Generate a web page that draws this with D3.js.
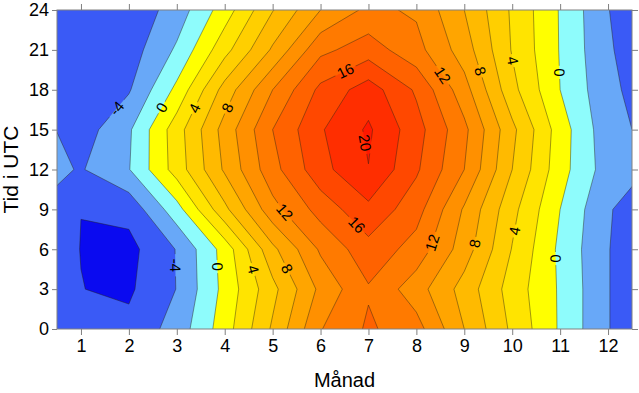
<!DOCTYPE html>
<html>
<head>
<meta charset="utf-8">
<script src="https://cdn.jsdelivr.net/npm/d3@7"></script>
<style>
  body { margin: 0; background: #fff; }
  text { font-family: "Liberation Sans", Arial, sans-serif; }
</style>
</head>
<body>
<svg id="chart" width="639" height="393"></svg>
<script>
// grid columns (month positions, edges included) and rows (hour UTC)
const monthPos = [0.5, 1, 2, 3, 4, 5, 6, 7, 8, 9, 10, 11, 12, 12.5];
const hourPos = [0, 3, 6, 9, 12, 15, 18, 21, 24];

// temperature, one array per hour
const utc00 = [-5.2, -5.3, -5.5, -3.17, 1.05, 6.3, 11.9, 14.3, 12.8, 8.0, 3.6, -0.25, -3.95, -4.6];
const utc03 = [-5.5, -5.97, -6.3, -3.95, 0.6, 5.4, 10.5, 13.8, 10.9, 7.2, 3.1, -0.25, -3.95, -4.6];
const utc06 = [-5.5, -6.03, -6.6, -3.9, 0.8, 7.5, 12.3, 15.3, 13.2, 9.0, 3.9, -0.43, -3.95, -4.6];
const utc09 = [-4.6, -5.99, -5.4, -0.8, 5.5, 11.3, 14.8, 17.5, 14.8, 9.75, 4.6, 0.0, -3.9, -4.4];
const utc12 = [-3.6, -4.17, -2.1, 2.9, 8.3, 13.3, 17.3, 19.95, 16.3, 12.0, 6.0, 0.8, -3.0, -3.7];
const utc15 = [-4.03, -5.0, -2.3, 3.1, 8.8, 14.0, 17.8, 20.3, 16.8, 12.5, 6.5, 1.0, -3.3, -4.0];
const utc18 = [-5.0, -5.3, -4.2, 0.5, 6.8, 12.0, 16.5, 19.0, 15.7, 10.8, 4.6, 0.0, -3.5, -4.4];
const utc21 = [-5.3, -5.5, -5.0, -1.7, 3.3, 8.3, 13.5, 15.0, 12.7, 9.0, 3.85, -0.12, -3.8, -4.6];
const utc24 = [-5.5, -5.5, -5.47, -3.1, 1.0, 5.9, 10.0, 12.5, 11.7, 8.0, 3.7, -0.15, -3.95, -4.8];

const levels = [-6, -4, -2, 0, 2, 4, 6, 8, 10, 12, 14, 16, 18, 20];
// first colour is below the lowest level
const bandColors = ['#0a0af0', '#3a5af6', '#68a8f8', '#8efcfc', '#ffff00', '#ffe400', '#ffcf00',
  '#ffba00', '#ffa500', '#ff9000', '#ff7a00', '#ff6200', '#ff4800', '#ff2e00', '#ff1800'];

// contour labels: level and rough place on the picture (month, hour)
const labelLevel = [-4, 0, 4, 8, 16, 20, 12, 8, 4, 0, -4, 0, 4, 8, 12, 16, 12, 8, 4, 0];
const labelMonth = [1.75, 2.67, 3.38, 4.03, 6.51, 6.93, 8.55, 9.33, 10.02, 10.98,
  3.03, 3.88, 4.61, 5.34, 5.22, 6.66, 8.33, 9.12, 10.0, 10.89];
const labelHour = [16.6, 16.7, 16.6, 16.7, 19.5, 14.0, 19.1, 19.4, 20.2, 19.3,
  4.8, 4.7, 4.5, 4.6, 8.7, 7.5, 6.5, 6.5, 7.4, 5.3];

const monthTicks = [1, 2, 3, 4, 5, 6, 7, 8, 9, 10, 11, 12];
const hourTicks = [0, 3, 6, 9, 12, 15, 18, 21, 24];

const width = 639, height = 393;
const margin = { top: 10, right: 7, bottom: 64, left: 57 };
const innerWidth = width - margin.left - margin.right;
const innerHeight = height - margin.top - margin.bottom;

const svg = d3.select('#chart');
const defs = svg.append('defs');
const g = svg.append('g').attr('transform', `translate(${margin.left},${margin.top})`);

const x = d3.scaleLinear().domain([0.5, 12.5]).range([0, innerWidth]);
const y = d3.scaleLinear().domain([0, 24]).range([innerHeight, 0]);

// d3.contours puts value i at i + 0.5, map that back to months / hours
const colToMonth = d3.scaleLinear().domain(monthPos.map((d, i) => i + 0.5)).range(monthPos);
const rowToHour = d3.scaleLinear().domain(hourPos.map((d, i) => i + 0.5)).range(hourPos);

const grid = [utc00, utc03, utc06, utc09, utc12, utc15, utc18, utc21, utc24];
const contours = d3.contours()
  .size([monthPos.length, hourPos.length])
  .thresholds(levels)(grid.flat());

const toPx = (cx, cy) => [x(colToMonth(cx)), y(rowToHour(cy))];
const path = d3.geoPath(d3.geoTransform({
  point(px, py) { const p = toPx(px, py); this.stream.point(p[0], p[1]); }
}));

defs.append('clipPath').attr('id', 'plotClip')
  .append('rect').attr('width', innerWidth).attr('height', innerHeight);

const plot = g.append('g').attr('clip-path', 'url(#plotClip)');
plot.append('rect').attr('width', innerWidth).attr('height', innerHeight).attr('fill', bandColors[0]);

plot.append('g')
  .selectAll('path')
  .data(contours)
  .join('path')
  .attr('d', path)
  .attr('fill', (d, i) => bandColors[i + 1]);

// labels: snap to the nearest point of the contour line
const nCols = monthPos.length, nRows = hourPos.length;
function nearestOnLevel(level, px, py) {
  const c = contours.find(d => d.value === level);
  let best = null;
  c.coordinates.forEach(poly => poly.forEach(ring => {
    for (let k = 1; k < ring.length; k++) {
      const a = ring[k - 1], b = ring[k];
      if ((a[0] === 0 && b[0] === 0) || (a[0] === nCols && b[0] === nCols) ||
          (a[1] === 0 && b[1] === 0) || (a[1] === nRows && b[1] === nRows)) continue;
      const [ax, ay] = toPx(a[0], a[1]);
      const [bx, by] = toPx(b[0], b[1]);
      const dx = bx - ax, dy = by - ay, l2 = dx * dx + dy * dy;
      if (!l2) continue;
      const t = Math.max(0, Math.min(1, ((px - ax) * dx + (py - ay) * dy) / l2));
      const qx = ax + t * dx, qy = ay + t * dy;
      const d2 = (qx - px) ** 2 + (qy - py) ** 2;
      if (!best || d2 < best.d2) best = { d2, qx, qy, ang: Math.atan2(dy, dx) * 180 / Math.PI };
    }
  }));
  let ang = best.ang;
  while (ang > 90) ang -= 180;
  while (ang <= -90) ang += 180;
  return { x: best.qx, y: best.qy, ang };
}

const labels = labelLevel.map((lv, i) => {
  const p = nearestOnLevel(lv, x(labelMonth[i]), y(labelHour[i]));
  return { text: String(lv), ...p };
});

const mask = defs.append('mask').attr('id', 'labelGap')
  .attr('maskUnits', 'userSpaceOnUse')
  .attr('x', 0).attr('y', 0).attr('width', innerWidth).attr('height', innerHeight);
mask.append('rect').attr('width', innerWidth).attr('height', innerHeight).attr('fill', '#fff');
mask.selectAll('rect.gap')
  .data(labels)
  .join('rect')
  .attr('class', 'gap')
  .attr('x', d => -d.text.length * 4.6 - 2)
  .attr('y', -7)
  .attr('width', d => d.text.length * 9.2 + 4)
  .attr('height', 14)
  .attr('transform', d => `translate(${d.x},${d.y}) rotate(${d.ang})`)
  .attr('fill', '#000');

plot.append('g')
  .attr('mask', 'url(#labelGap)')
  .selectAll('path')
  .data(contours)
  .join('path')
  .attr('d', path)
  .attr('fill', 'none')
  .attr('stroke', 'rgba(40,35,20,0.55)')
  .attr('stroke-width', 0.8);

g.append('g')
  .selectAll('text')
  .data(labels)
  .join('text')
  .attr('transform', d => `translate(${d.x},${d.y}) rotate(${d.ang})`)
  .attr('text-anchor', 'middle')
  .attr('dy', '0.35em')
  .attr('font-size', 15)
  .attr('fill', '#000')
  .text(d => d.text);

// axes
const styleAxis = sel => {
  sel.select('.domain').remove();
  sel.selectAll('.tick line').attr('stroke', '#808080');
  sel.selectAll('.tick text').attr('fill', '#000').attr('font-size', 18)
    .attr('font-family', '"Liberation Sans", Arial, sans-serif');
};

g.append('g')
  .attr('transform', `translate(0,${innerHeight})`)
  .call(d3.axisBottom(x).tickValues(monthTicks).tickSize(6).tickPadding(4))
  .call(styleAxis);

g.append('g')
  .call(d3.axisLeft(y).tickValues(hourTicks).tickSize(5).tickPadding(3))
  .call(styleAxis);

// top and right: tick marks only
g.append('g')
  .call(d3.axisTop(x).tickValues(monthTicks).tickSize(6))
  .call(styleAxis)
  .call(sel => sel.selectAll('.tick text').remove());

g.append('g')
  .attr('transform', `translate(${innerWidth},0)`)
  .call(d3.axisRight(y).tickValues(hourTicks).tickSize(6))
  .call(styleAxis)
  .call(sel => sel.selectAll('.tick text').remove());

g.append('rect')
  .attr('width', innerWidth)
  .attr('height', innerHeight)
  .attr('fill', 'none')
  .attr('stroke', '#808080')
  .attr('stroke-width', 1);

g.append('text')
  .attr('x', innerWidth / 2)
  .attr('y', innerHeight + 58)
  .attr('text-anchor', 'middle')
  .attr('font-size', 20)
  .text('Månad');

g.append('text')
  .attr('transform', `translate(${-39},${innerHeight / 2}) rotate(-90)`)
  .attr('text-anchor', 'middle')
  .attr('font-size', 21)
  .text('Tid i UTC');
</script>
</body>
</html>
